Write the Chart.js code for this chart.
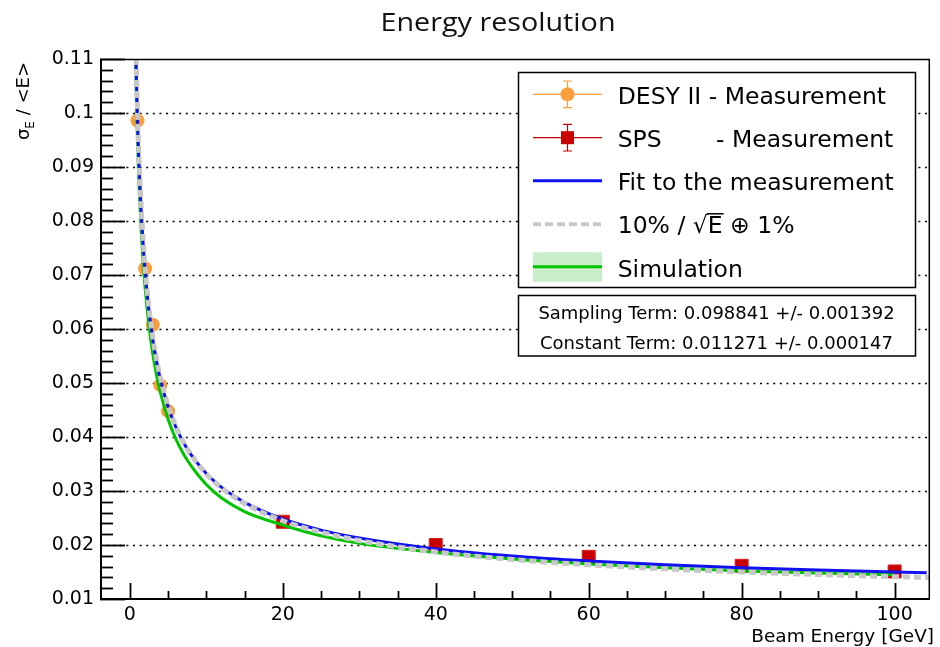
<!DOCTYPE html>
<html><head><meta charset="utf-8">
<script src="https://cdn.jsdelivr.net/npm/chart.js@4.4.0/dist/chart.umd.min.js"></script>
<style>html,body{margin:0;padding:0;background:#fff;}#wrap{width:940px;height:647px;position:relative;}</style>
</head><body><div id="wrap"><canvas id="c" width="940" height="647"></canvas></div>
<script>
// ---- data ----
const desyE=[1,2,3,4,5];
const desyVal=[0.0986,0.0712,0.0608,0.0496,0.0448];
const desyErr=[0.0019,0.0012,0.0010,0.0008,0.0007];
const spsE=[20,40,60,80,100];
const spsVal=[0.0243,0.0200,0.0178,0.01615,0.0151];
const spsErr=[0.0005,0.0004,0.0004,0.0003,0.0003];
const fitE=[0.8,0.9,1,1.1,1.25,1.5,1.75,2,2.5,3,3.5,4,5,6,7,8,10,12,15,20,25,30,40,50,60,70,80,90,100,104.2];
const fitVal=[0.11108,0.10480,0.09948,0.09491,0.08912,0.08149,0.07556,0.07080,0.06352,0.05817,0.05402,0.05069,0.04562,0.04190,0.03902,0.03672,0.03323,0.03068,0.02790,0.02481,0.02276,0.02128,0.01927,0.01796,0.01703,0.01633,0.01578,0.01535,0.01499,0.01486];
const refE=[0.8,0.9,1,1.1,1.25,1.5,1.75,2,2.5,3,3.5,4,5,6,7,8,10,12,15,20,25,30,40,50,60,70,80,90,100,104.6];
const refVal=[0.11225,0.10588,0.10050,0.09587,0.09000,0.08226,0.07625,0.07141,0.06403,0.05859,0.05438,0.05099,0.04583,0.04203,0.03910,0.03674,0.03317,0.03055,0.02769,0.02449,0.02236,0.02082,0.01871,0.01732,0.01633,0.01558,0.01500,0.01453,0.01414,0.01399];
const simE=[0.72,0.8,0.9,1,1.1,1.25,1.5,1.75,2,2.5,3,3.5,4,5,6,7,8,10,12,15,20,25,30,40,50,60,70,80,90,100];
const simVal=[0.1117,0.1060,0.1000,0.0950,0.0906,0.0851,0.0778,0.0721,0.0676,0.0606,0.0554,0.0514,0.0482,0.0433,0.0397,0.0369,0.0347,0.0312,0.0287,0.0262,0.0237,0.0217,0.0203,0.0186,0.0174,0.0165,0.0158,0.0152,0.0148,0.0145];
const simErr=[0.0010,0.0009,0.0008,0.0008,0.0007,0.0007,0.0006,0.0006,0.0005,0.0005,0.0004,0.0004,0.0004,0.0003,0.0003,0.0003,0.0003,0.0003,0.0002,0.0002,0.0002,0.0002,0.0002,0.0002,0.0002,0.0002,0.0002,0.0002,0.0002,0.0002];
const xTickValues=[0,20,40,60,80,100];
const yTickValues=[0.01,0.02,0.03,0.04,0.05,0.06,0.07,0.08,0.09,0.10,0.11];
const titleText="Energy resolution";
const xTitle="Beam Energy [GeV]";
const legendLabels=["DESY II - Measurement","SPS","- Measurement","Fit to the measurement","10% / ","Simulation"];
const statsLines=["Sampling Term: 0.098841 +/- 0.001392","Constant Term: 0.011271 +/- 0.000147"];

const C={desy:'#fa9d3c',sps:'#c80000',fit:'#1010f0',ref:'#c8c8c8',sim:'#00c400',band:'rgba(120,210,120,0.4)'};
const pts=(xs,ys)=>xs.map((x,i)=>({x:x,y:ys[i]}));
const fmtY=v=>String(parseFloat(Number(v).toFixed(3)));

const decor={
  id:'decor',
  beforeDatasetsDraw(chart){
    const ctx=chart.ctx,a=chart.chartArea,xs=chart.scales.x,ys=chart.scales.y;
    ctx.save();
    ctx.strokeStyle='#000';ctx.lineWidth=1.3;ctx.setLineDash([2,4.6]);
    yTickValues.forEach(v=>{if(v<=0.0101||v>=0.1099)return;const y=Math.round(ys.getPixelForValue(v))+0.5;ctx.beginPath();ctx.moveTo(a.left,y);ctx.lineTo(a.right,y);ctx.stroke();});
    ctx.setLineDash([]);
    ctx.lineWidth=1.2;
    const eb=(E,V,Er,col)=>{ctx.strokeStyle=col;E.forEach((e,i)=>{const x=xs.getPixelForValue(e);ctx.beginPath();ctx.moveTo(x,ys.getPixelForValue(V[i]-Er[i]));ctx.lineTo(x,ys.getPixelForValue(V[i]+Er[i]));ctx.stroke();});};
    eb(desyE,desyVal,desyErr,C.desy);eb(spsE,spsVal,spsErr,C.sps);
    ctx.restore();
  },
  afterDatasetsDraw(chart){
    const ctx=chart.ctx,a=chart.chartArea,xs=chart.scales.x,ys=chart.scales.y;
    ctx.save();
    ctx.strokeStyle='#000';
    ctx.lineWidth=1.5;ctx.beginPath();ctx.moveTo(a.left,a.top+0.5);ctx.lineTo(a.right,a.top+0.5);ctx.moveTo(a.right-0.5,a.top);ctx.lineTo(a.right-0.5,a.bottom);ctx.stroke();
    ctx.lineWidth=2;ctx.beginPath();ctx.moveTo(a.left+1,a.top);ctx.lineTo(a.left+1,a.bottom);ctx.lineTo(a.right,a.bottom);ctx.stroke();
    ctx.lineWidth=1.8;
    for(let k=0;k<=50;k++){const v=0.01+k*0.002;const y=Math.round(ys.getPixelForValue(v))+0.5;const L=(k%5===0)?25:13;ctx.beginPath();ctx.moveTo(a.left,y);ctx.lineTo(a.left+L,y);ctx.stroke();}
    for(let k=0;k<=20;k++){const v=k*5;const x=Math.round(xs.getPixelForValue(v))+0.5;const L=(k%4===0)?16:8;ctx.beginPath();ctx.moveTo(x,a.bottom);ctx.lineTo(x,a.bottom-L);ctx.stroke();}
    ctx.restore();
  },
  afterDraw(chart){
    const ctx=chart.ctx;
    ctx.save();
    ctx.fillStyle='#111';ctx.textBaseline='alphabetic';
    ctx.font='26px "Open Sans"';
    const tw=ctx.measureText(titleText).width, sx=235/tw;
    ctx.save();ctx.translate(498-117.5,31);ctx.scale(sx,1);ctx.fillText(titleText,0,0);ctx.restore();
    ctx.fillStyle='#000';
    ctx.font='18.5px "DejaVu Sans"';ctx.textAlign='right';ctx.fillText(xTitle,934,642);ctx.textAlign='left';
    ctx.save();ctx.translate(28.5,62);ctx.rotate(-Math.PI/2);
    const f1='18px "DejaVu Sans"',f2='12px "DejaVu Sans"';
    ctx.font=f1;const w1=ctx.measureText('\u03c3').width;ctx.font=f2;const w2=ctx.measureText('E').width;ctx.font=f1;const w3=ctx.measureText(' / <E>').width;
    let x0=-(w1+w2+w3);
    ctx.font=f1;ctx.fillText('\u03c3',x0,0);x0+=w1;ctx.font=f2;ctx.fillText('E',x0,5);x0+=w2;ctx.font=f1;ctx.fillText(' / <E>',x0,0);
    ctx.restore();
    ctx.fillStyle='#fff';ctx.fillRect(518.5,72.5,397,215);ctx.fillRect(518.5,295.5,397,60.5);
    ctx.strokeStyle='#000';ctx.lineWidth=1.5;ctx.strokeRect(518.5,72.5,397,215);ctx.strokeRect(518.5,295.5,397,60.5);
    const sx0=533,sx1=602,sxc=567.5;
    let yc=94.3;
    ctx.strokeStyle=C.desy;ctx.lineWidth=1.2;ctx.beginPath();ctx.moveTo(sx0,yc);ctx.lineTo(sx1,yc);ctx.moveTo(sxc,81);ctx.lineTo(sxc,107.7);ctx.moveTo(sxc-4.5,81);ctx.lineTo(sxc+4.5,81);ctx.moveTo(sxc-4.5,107.7);ctx.lineTo(sxc+4.5,107.7);ctx.stroke();
    ctx.fillStyle=C.desy;ctx.beginPath();ctx.arc(sxc,yc,7,0,2*Math.PI);ctx.fill();
    yc=137.7;
    ctx.strokeStyle=C.sps;ctx.beginPath();ctx.moveTo(sx0,yc);ctx.lineTo(sx1,yc);ctx.moveTo(sxc,124.3);ctx.lineTo(sxc,151);ctx.moveTo(sxc-4.5,124.3);ctx.lineTo(sxc+4.5,124.3);ctx.moveTo(sxc-4.5,151);ctx.lineTo(sxc+4.5,151);ctx.stroke();
    ctx.fillStyle=C.sps;ctx.fillRect(sxc-6.5,yc-6.5,13,13);
    yc=180.7;ctx.strokeStyle=C.fit;ctx.lineWidth=3;ctx.beginPath();ctx.moveTo(sx0,yc);ctx.lineTo(sx1,yc);ctx.stroke();
    yc=224.3;ctx.strokeStyle=C.ref;ctx.lineWidth=4;ctx.setLineDash([8,4]);ctx.beginPath();ctx.moveTo(sx0,yc);ctx.lineTo(sx1,yc);ctx.stroke();ctx.setLineDash([]);
    yc=266.7;ctx.fillStyle=C.band;ctx.fillRect(sx0,252.3,sx1-sx0,29.4);ctx.strokeStyle=C.sim;ctx.lineWidth=3;ctx.beginPath();ctx.moveTo(sx0,yc);ctx.lineTo(sx1,yc);ctx.stroke();
    ctx.fillStyle='#000';ctx.font='23.5px "DejaVu Sans"';ctx.textAlign='left';
    const tx=617.7;
    ctx.fillText(legendLabels[0],tx,104.3);
    ctx.fillText(legendLabels[1],tx,146.7);
    ctx.fillText(legendLabels[2],716,146.7);
    ctx.fillText(legendLabels[3],tx,190);
    let px=tx;const by=233.3;
    ctx.fillText(legendLabels[4],px,by);px+=ctx.measureText(legendLabels[4]).width;
    ctx.fillText('\u221a',px,by);px+=ctx.measureText('\u221a').width;
    const eW=ctx.measureText('E').width;ctx.fillText('E',px,by);
    ctx.lineWidth=1.5;ctx.strokeStyle='#000';ctx.beginPath();ctx.moveTo(px-1,by-19.5);ctx.lineTo(px+eW+1,by-19.5);ctx.stroke();
    px+=eW;ctx.fillText(' \u2295 1%',px,by);
    ctx.fillText(legendLabels[5],tx,276.7);
    ctx.font='18px "DejaVu Sans"';ctx.textAlign='center';
    ctx.fillText(statsLines[0],716.5,319);ctx.fillText(statsLines[1],716.5,349);
    ctx.restore();
  }
};

const lineDS=(label,E,V,col,w,order,dash)=>({type:'line',label:label,data:pts(E,V),borderColor:col,borderWidth:w,pointRadius:0,fill:false,cubicInterpolationMode:'monotone',order:order,borderDash:dash||[]});

new Chart(document.getElementById('c'),{
  type:'scatter',
  data:{datasets:[
    lineDS('10% / sqrt(E) (+) 1%',refE,refVal,C.ref,5,0,[7,4]),
    lineDS('Fit to the measurement',fitE,fitVal,C.fit,3,1),
    lineDS('Simulation',simE,simVal,C.sim,3,2),
    {type:'line',label:'band+',data:simE.map((e,i)=>({x:e,y:simVal[i]+simErr[i]})),borderWidth:0,pointRadius:0,fill:false,cubicInterpolationMode:'monotone',order:3},
    {type:'line',label:'band-',data:simE.map((e,i)=>({x:e,y:simVal[i]-simErr[i]})),borderWidth:0,pointRadius:0,fill:'-1',backgroundColor:C.band,cubicInterpolationMode:'monotone',order:3},
    {type:'scatter',label:'SPS - Measurement',data:pts(spsE,spsVal),pointStyle:'rect',pointRadius:9.2,backgroundColor:C.sps,borderColor:'#d82020',borderWidth:1,order:5},
    {type:'scatter',label:'DESY II - Measurement',data:pts(desyE,desyVal),pointStyle:'circle',pointRadius:7,backgroundColor:C.desy,borderWidth:0,order:6}
  ]},
  options:{
    responsive:false,animation:false,devicePixelRatio:1,events:[],
    layout:{padding:{top:59,right:5,left:0,bottom:0}},
    plugins:{legend:{display:false},tooltip:{enabled:false},title:{display:false}},
    scales:{
      x:{type:'linear',min:-3.9,max:104.6,
        afterBuildTicks:s=>{s.ticks=xTickValues.map(v=>({value:v}));},
        afterFit:s=>{s.height=48;},
        grid:{display:false,drawTicks:false},border:{display:false},
        ticks:{font:{family:'DejaVu Sans',size:19},color:'#000',padding:5,maxRotation:0,autoSkip:false,callback:v=>String(v)}},
      y:{type:'linear',min:0.01,max:0.11,
        afterBuildTicks:s=>{s.ticks=yTickValues.map(v=>({value:v}));},
        afterFit:s=>{s.width=100;},
        grid:{display:false,drawTicks:false},border:{display:false},
        ticks:{font:{family:'DejaVu Sans',size:19},color:'#000',padding:6,autoSkip:false,callback:v=>fmtY(v)}}
    }
  },
  plugins:[decor]
});
</script></body></html>
